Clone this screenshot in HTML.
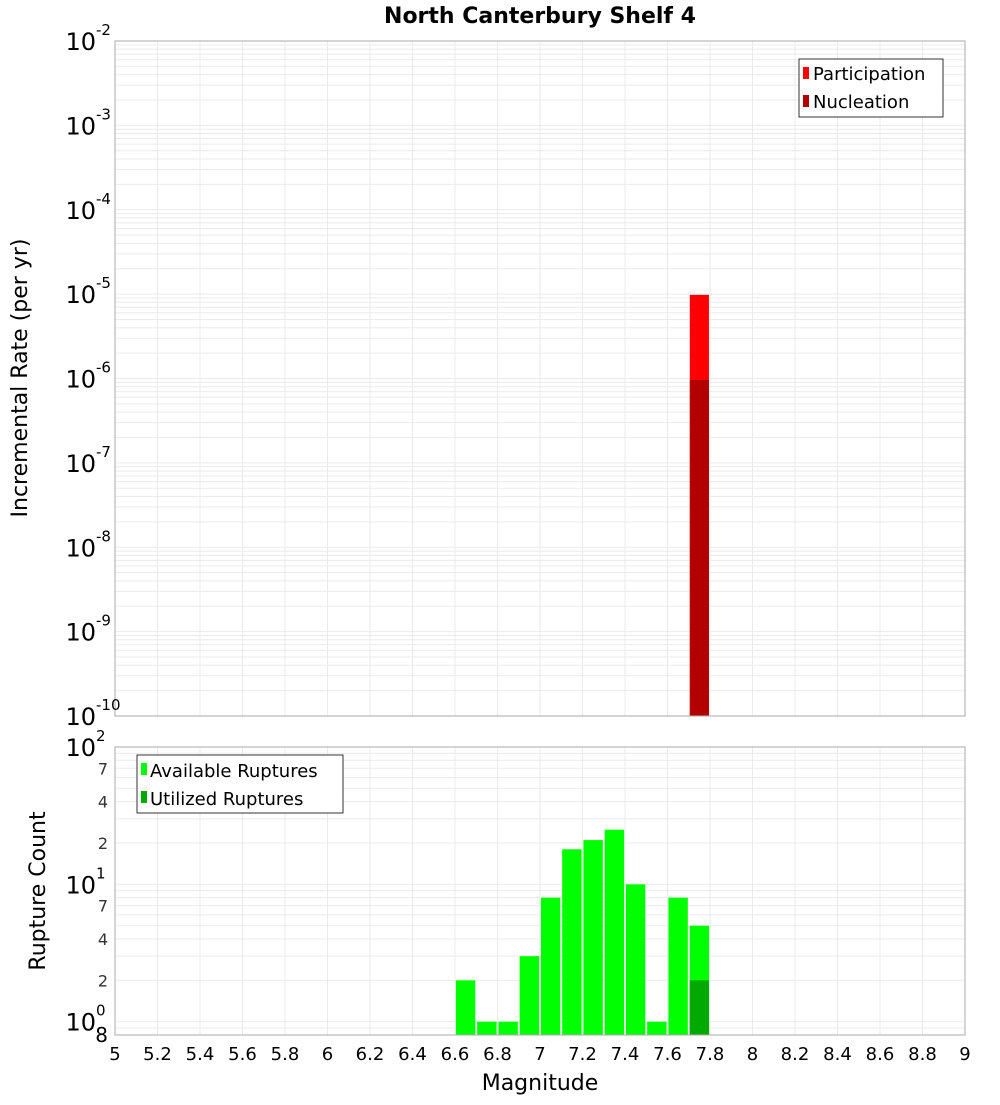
<!DOCTYPE html>
<html><head><meta charset="utf-8"><style>
body{margin:0;background:#fff;font-family:"Liberation Sans","DejaVu Sans",sans-serif}
svg text{font-family:"DejaVu Sans","Liberation Sans",sans-serif}
</style></head><body>
<svg id="c" width="1000" height="1100" xmlns="http://www.w3.org/2000/svg">
<text x="540" y="23" text-anchor="middle" font-size="22" font-weight="bold">North Canterbury Shelf 4</text>
<text transform="translate(27,378) rotate(-90)" text-anchor="middle" font-size="22">Incremental Rate (per yr)</text>
<text transform="translate(45,891) rotate(-90)" text-anchor="middle" font-size="22">Rupture Count</text>
<text x="540" y="1090" text-anchor="middle" font-size="22">Magnitude</text>
<g id="topg"></g><g id="botg"></g>
<g>
<rect x="799" y="59" width="144" height="58" fill="#fff" stroke="#333"/>
<rect x="803" y="67" width="6" height="12" fill="#ff0000"/>
<text x="813" y="80" font-size="18">Participation</text>
<rect x="803" y="95" width="6" height="12" fill="#b30000"/>
<text x="813" y="108" font-size="18">Nucleation</text>
</g>
<g>
<rect x="137" y="755" width="206" height="58" fill="#fff" stroke="#333"/>
<rect x="141" y="763" width="6" height="12" fill="#00ff00"/>
<text x="150" y="777" font-size="18">Available Ruptures</text>
<rect x="141" y="791" width="6" height="12" fill="#00aa00"/>
<text x="150" y="805" font-size="18">Utilized Ruptures</text>
</g>
</svg>
<script>
const topMags=[7.75];
const participation=[9.8e-6];
const nucleation=[9.6e-7];
const botMags=[6.65,6.75,6.85,6.95,7.05,7.15,7.25,7.35,7.45,7.55,7.65,7.75];
const available=[2,1,1,3,8,18,21,25,10,1,8,5];
const utilizedMags=[7.75];
const utilized=[2];
const xTicks=[5,5.2,5.4,5.6,5.8,6,6.2,6.4,6.6,6.8,7,7.2,7.4,7.6,7.8,8,8.2,8.4,8.6,8.8,9];
const topDecades=[-10,-9,-8,-7,-6,-5,-4,-3,-2];
const botDecades=[0,1,2];
const botMinorLabels=[2,4,7];

const NS="http://www.w3.org/2000/svg";
const X0=115,X1=965,XMIN=5,XMAX=9;
const x=m=>X0+(m-XMIN)/(XMAX-XMIN)*(X1-X0);
const T0=41,T1=716,yt=v=>T0+(-2-Math.log10(v))/8*(T1-T0);
const B0=747,B1=1035,LMIN=Math.log10(0.8),LMAX=2;
const yb=v=>B0+(LMAX-Math.log10(v))/(LMAX-LMIN)*(B1-B0);
function mk(p,tag,a){const e=document.createElementNS(NS,tag);for(const k in a)e.setAttribute(k,a[k]);p.appendChild(e);return e;}
const gTop=document.getElementById('topg'),gBot=document.getElementById('botg');
function frame(g,y0,y1,yf,lo,hi){
 mk(g,'rect',{x:X0,y:y0,width:X1-X0,height:y1-y0,fill:'#fff'});
 for(const t of xTicks){const l=mk(g,'line',{x1:x(t),x2:x(t),y1:y0,y2:y1,stroke:'#ebebeb'});
 
 }
 for(let d=lo;d<hi;d++)for(let k=1;k<10;k++){const v=k*Math.pow(10,d);const yy=yf(v);if(yy<y0-0.5||yy>y1+0.5)continue;
 const l=mk(g,'line',{x1:X0,x2:X1,y1:yy,y2:yy,stroke:'#ebebeb'});
 
 }
}
frame(gTop,T0,T1,yt,-10,-1);
frame(gBot,B0,B1,yb,-1,3);
topMags.forEach((m,i)=>{
 const r=mk(gTop,'rect',{x:x(m-0.045),y:yt(participation[i]),width:x(m+0.045)-x(m-0.045),height:T1-yt(participation[i]),fill:'#ff0000'});
 
 
 const n=mk(gTop,'rect',{x:x(m-0.045),y:yt(nucleation[i]),width:x(m+0.045)-x(m-0.045),height:T1-yt(nucleation[i]),fill:'#b30000'});
 
 
});
botMags.forEach((m,i)=>{
 const r=mk(gBot,'rect',{x:x(m-0.048)+0.5,y:yb(available[i]),width:x(m+0.048)-x(m-0.048)-1,height:B1-yb(available[i]),fill:'#00ff00'});
 
 
});
utilizedMags.forEach((m,i)=>{
 const r=mk(gBot,'rect',{x:x(m-0.048)+0.5,y:yb(utilized[i]),width:x(m+0.048)-x(m-0.048)-1,height:B1-yb(utilized[i]),fill:'#00aa00'});
 
 
});
mk(gTop,'rect',{x:X0,y:T0,width:X1-X0,height:T1-T0,fill:'none',stroke:'#aaa'});
mk(gBot,'rect',{x:X0,y:B0,width:X1-X0,height:B1-B0,fill:'none',stroke:'#aaa'});
function decLabel(g,yy,exp){
 const t=mk(g,'text',{x:96,y:yy+9,'text-anchor':'end','font-size':24});t.textContent='10';
 
 
 const s=mk(g,'text',{x:96,y:yy-6,'font-size':15});s.textContent=exp;
 
 
}
topDecades.forEach(d=>decLabel(gTop,yt(Math.pow(10,d)),String(d)));
botDecades.forEach(d=>decLabel(gBot,yb(Math.pow(10,d)),String(d)));
for(const d of [0,1])for(const k of botMinorLabels){const t=mk(gBot,'text',{x:108,y:yb(k*Math.pow(10,d))+6,'text-anchor':'end','font-size':16,fill:'#333'});t.textContent=k;
 
 }
{const t=mk(gBot,'text',{x:108,y:1042,'text-anchor':'end','font-size':20});t.textContent='8';
 
 }
xTicks.forEach(v=>{const t=mk(gBot,'text',{x:x(v),y:1060,'text-anchor':'middle','font-size':18});t.textContent=String(+v.toFixed(1));
 
 });
</script>
</body></html>
